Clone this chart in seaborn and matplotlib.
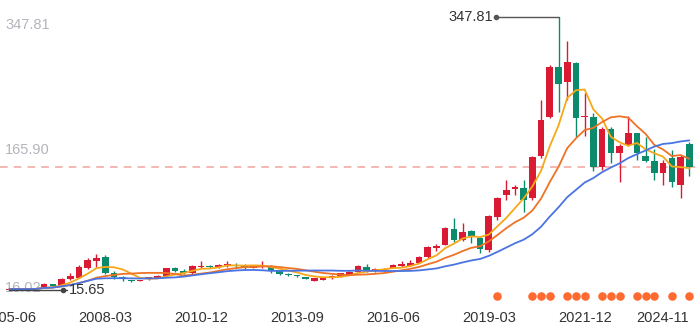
import numpy as np
import pandas as pd
import matplotlib
matplotlib.use("Agg")
import matplotlib.pyplot as plt
import matplotlib.transforms as mtransforms
import seaborn as sns

# Quarterly periods, last bar is the current (partial) period
periods = [p.end_time.strftime("%Y-%m") for p in pd.period_range("2005Q2", "2024Q3", freq="Q")]
periods.append("2024-11")

opens = [16.0, 17.2, 17.0, 16.8, 19.0, 22.5, 21.9, 29.1, 30.8, 42.2,
         51.5, 56.3, 36.1, 31.0, 27.5, 27.2, 29.0, 30.5, 32.8, 42.2,
         39.3, 36.1, 43.4, 45.4, 43.4, 46.4, 46.8, 45.8, 42.5, 43.5,
         44.2, 39.3, 34.5, 33.3, 31.6, 27.0, 28.0, 30.0, 32.8, 34.0,
         38.0, 44.2, 38.9, 39.3, 42.9, 45.0, 45.4, 49.0, 55.6, 67.0,
         70.6, 90.0, 76.6, 87.6, 78.7, 64.5, 105.1, 131.4, 138.4, 139.6,
         127.4, 178.9, 226.8, 287.7, 268.7, 291.8, 226.0, 226.8, 165.9, 211.4,
         182.2, 192.3, 206.6, 178.9, 172.8, 158.6, 176.1, 143.6, 193.2]
highs = [17.2, 17.5, 17.3, 18.0, 24.5, 23.5, 29.8, 36.0, 46.0, 54.3,
         59.6, 58.4, 39.3, 32.8, 28.0, 28.5, 32.0, 34.5, 43.0, 44.2,
         41.0, 46.0, 51.5, 46.2, 47.4, 51.0, 49.0, 48.0, 46.6, 50.5,
         45.8, 40.0, 37.0, 33.6, 32.0, 30.8, 30.8, 34.5, 37.0, 38.5,
         46.8, 47.0, 42.0, 42.5, 47.4, 51.5, 52.5, 57.2, 69.5, 71.8,
         92.5, 103.0, 97.7, 88.8, 80.7, 107.1, 129.4, 149.7, 143.6, 149.7,
         179.0, 247.1, 289.5, 347.81, 319.3, 293.7, 256.0, 230.9, 213.9, 214.6,
         193.5, 227.6, 207.5, 202.3, 187.5, 174.1, 186.2, 180.1, 196.3]
lows = [15.65, 16.5, 16.3, 16.5, 18.5, 20.0, 21.0, 28.5, 30.0, 41.5,
        44.2, 35.5, 29.0, 26.8, 26.0, 26.5, 28.5, 30.0, 32.0, 37.7,
        34.8, 35.2, 42.0, 42.5, 42.8, 44.0, 42.5, 41.5, 42.0, 42.0,
        36.5, 34.5, 32.8, 32.2, 29.0, 26.5, 27.5, 29.5, 32.0, 33.5,
        37.5, 38.0, 37.5, 38.5, 42.5, 44.0, 45.0, 48.5, 55.0, 63.5,
        70.0, 74.6, 76.0, 72.6, 60.4, 62.3, 101.0, 125.3, 132.0, 111.1,
        125.0, 177.0, 225.0, 232.9, 247.1, 202.4, 203.8, 161.0, 161.9, 170.0,
        147.7, 191.0, 174.1, 171.5, 150.0, 143.6, 141.2, 127.5, 154.6]
closes = [16.8, 16.9, 16.7, 17.6, 23.5, 21.0, 29.0, 32.8, 43.4, 52.3,
          54.3, 36.1, 31.2, 30.2, 26.8, 27.8, 31.5, 32.8, 42.2, 39.3,
          36.1, 45.0, 45.4, 43.5, 46.6, 47.6, 45.4, 44.2, 45.0, 45.0,
          39.3, 35.2, 33.5, 32.8, 29.5, 30.4, 30.4, 32.8, 36.1, 38.0,
          45.0, 38.9, 41.0, 41.7, 45.8, 47.4, 49.0, 55.6, 68.5, 69.3,
          90.9, 76.6, 86.8, 81.5, 65.3, 105.9, 127.4, 137.5, 140.8, 125.3,
          178.1, 222.8, 287.7, 266.6, 293.0, 224.8, 227.5, 165.9, 211.4, 182.2,
          191.1, 206.6, 182.2, 172.8, 158.6, 170.0, 147.6, 178.1, 165.9]

# Bars carrying an event marker along the bottom
event_bars = [56, 60, 61, 62, 64, 65, 66, 68, 69, 70, 72, 73, 74, 76, 78]

# Axis reference values shown on the left
axis_high = "347.81"
axis_last = "165.90"
axis_low = "16.02"

UP = "#DA1A33"
DOWN = "#0B8B6C"
MA_COLORS = {"ma5": "#F6A81A", "ma10": "#EE7326", "ma20": "#4A74E2"}

sns.set_theme(style="white")
plt.rcParams["font.family"] = ["Liberation Sans", "DejaVu Sans"]

df = pd.DataFrame({"period": periods, "open": opens, "high": highs,
                   "low": lows, "close": closes})
df["pos"] = np.arange(len(df))
for n in (5, 10, 20):
    df[f"ma{n}"] = df["close"].rolling(n, min_periods=1).mean()

fig = plt.figure(figsize=(7, 3.35), dpi=100)
ax = fig.add_axes([0, 30 / 335, 1, 305 / 335])
ax.set_xlim(-1.067, 79.23)
ax.set_ylim(-2.5, 368.87)

up = df["close"] >= df["open"]
colors = np.where(up, UP, DOWN)

# last close reference line
last_close = df["close"].iloc[-1]
ax.axhline(last_close, color="#F2A49C", lw=1.1, ls=(0, (5, 4)), zorder=1)

# candles: wicks then bodies
ax.vlines(df["pos"], df["low"], df["high"], colors=colors, lw=1.0, zorder=2)
body_lo = np.minimum(df["open"], df["close"])
body_h = np.maximum((df["close"] - df["open"]).abs(), 1.2)
ax.bar(df["pos"], body_h, bottom=body_lo, width=0.76, color=colors,
       linewidth=0, zorder=3)

# moving averages
for key, col in MA_COLORS.items():
    sns.lineplot(data=df, x="pos", y=key, color=col, lw=1.3, ax=ax,
                 legend=False, zorder=4)

# high / low callouts
px = 700 / (79.23 + 1.067)  # pixels per bar
i_hi = int(df["high"].idxmax())
i_lo = int(df["low"].idxmin())
hi_val = df["high"].iloc[i_hi]
lo_val = df["low"].iloc[i_lo]

x_dot_hi = i_hi - 62.5 / px
ax.plot([x_dot_hi, i_hi], [hi_val, hi_val], color="#555555", lw=1.0, zorder=5)
ax.plot([x_dot_hi], [hi_val], "o", color="#555555", ms=3, zorder=6)
ax.annotate(f"{hi_val:.2f}", (x_dot_hi, hi_val), xytext=(-2, 0),
            textcoords="offset points", ha="right", va="center",
            fontsize=10.5, color="#333333", zorder=6)

x_dot_lo = i_lo + 53.7 / px
ax.plot([i_lo, x_dot_lo + 4 / px], [lo_val, lo_val], color="#444444", lw=1.0, zorder=5)
ax.plot([x_dot_lo], [lo_val], "o", color="#444444", ms=3, zorder=6)
ax.annotate(f"{lo_val:.2f}", (x_dot_lo, lo_val), xytext=(4, 0),
            textcoords="offset points", ha="left", va="center",
            fontsize=10.5, color="#333333", zorder=6)

# event markers along the bottom
trans = mtransforms.blended_transform_factory(ax.transData, ax.transAxes)
ax.scatter(event_bars, np.full(len(event_bars), 9 / 305), transform=trans,
           s=38, color="#FF6A30", linewidths=0, zorder=5)

# left axis labels
ytrans = mtransforms.blended_transform_factory(ax.transAxes, ax.transData)
ax.annotate(axis_high, (5 / 700, float(axis_high)), xycoords=ytrans,
            xytext=(0, -5.3), textcoords="offset points", ha="left",
            va="center", fontsize=10.5, color="#B4B4BC", zorder=1)
ax.annotate(axis_last, (5 / 700, float(axis_last)), xycoords=ytrans,
            xytext=(0, 12), textcoords="offset points", ha="left",
            va="center", fontsize=10.5, color="#B4B4BC", zorder=1)
ax.annotate(axis_low, (5 / 700, float(axis_low)), xycoords=ytrans,
            xytext=(0, 1.3), textcoords="offset points", ha="left",
            va="center", fontsize=10.5, color="#B4B4BC", zorder=1)

# category ticks every 11 bars plus the latest bar
tick_pos = list(range(0, 67, 11)) + [len(df) - 1]
ax.set_xticks(tick_pos)
ax.set_xticklabels([periods[i] for i in tick_pos])
ax.tick_params(axis="x", length=0, pad=4.5, labelsize=10.5, labelcolor="#333333")
ax.get_xticklabels()[-1].set_ha("right")
ax.set_yticks([])
ax.set_xlabel("")
ax.set_ylabel("")
for s in ax.spines.values():
    s.set_visible(False)

fig.savefig("out.png", dpi=100)
